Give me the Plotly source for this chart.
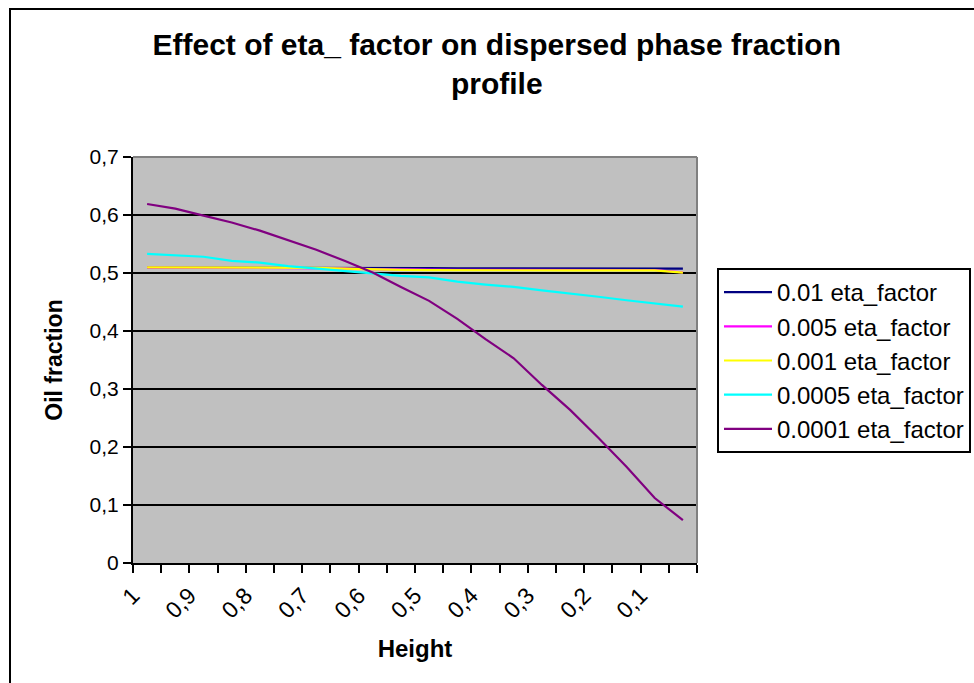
import plotly.graph_objects as go

# Height of each cell centre (20 cells between 1 and 0)
heights = [0.975, 0.925, 0.875, 0.825, 0.775, 0.725, 0.675, 0.625, 0.575, 0.525,
           0.475, 0.425, 0.375, 0.325, 0.275, 0.225, 0.175, 0.125, 0.075, 0.025]

# Oil fraction profiles for each eta_factor
oil_eta_0_01 = [0.5095, 0.5095, 0.5095, 0.5095, 0.5094, 0.5093, 0.5092, 0.5090, 0.5088, 0.5085,
                0.5083, 0.5081, 0.5079, 0.5078, 0.5077, 0.5077, 0.5076, 0.5076, 0.5076, 0.5075]
oil_eta_0_005 = [0.5093, 0.5093, 0.5093, 0.5093, 0.5093, 0.5092, 0.5090, 0.5080, 0.5068, 0.5060,
                 0.5056, 0.5054, 0.5053, 0.5053, 0.5053, 0.5053, 0.5053, 0.5053, 0.5052, 0.5010]
oil_eta_0_001 = [0.5098, 0.5098, 0.5098, 0.5098, 0.5098, 0.5096, 0.5090, 0.5075, 0.5062, 0.5055,
                 0.5050, 0.5047, 0.5046, 0.5046, 0.5046, 0.5046, 0.5046, 0.5046, 0.5045, 0.5005]
oil_eta_0_0005 = [0.533, 0.531, 0.528, 0.521, 0.518, 0.512, 0.508, 0.503, 0.4995, 0.495,
                  0.4925, 0.485, 0.480, 0.476, 0.470, 0.465, 0.459, 0.453, 0.448, 0.442]
oil_eta_0_0001 = [0.619, 0.611, 0.599, 0.587, 0.573, 0.557, 0.540, 0.521, 0.501, 0.476,
                  0.452, 0.421, 0.386, 0.353, 0.307, 0.264, 0.216, 0.166, 0.112, 0.074]

series_names = ["0.01 eta_factor", "0.005 eta_factor", "0.001 eta_factor",
                "0.0005 eta_factor", "0.0001 eta_factor"]
series_values = [oil_eta_0_01, oil_eta_0_005, oil_eta_0_001, oil_eta_0_0005, oil_eta_0_0001]
series_colors = ["#000080", "#FF00FF", "#FFFF00", "#00FFFF", "#800080"]

# Height axis: a tick at every cell boundary, a label on every second one
tick_positions = [1.0, 0.95, 0.9, 0.85, 0.8, 0.75, 0.7, 0.65, 0.6, 0.55, 0.5,
                  0.45, 0.4, 0.35, 0.3, 0.25, 0.2, 0.15, 0.1, 0.05, 0.0]
tick_labels = ["1", "", "0,9", "", "0,8", "", "0,7", "", "0,6", "", "0,5",
               "", "0,4", "", "0,3", "", "0,2", "", "0,1", "", ""]

FONT = "Arial, Liberation Sans, sans-serif"

fig = go.Figure()
for name, vals, col in zip(series_names, series_values, series_colors):
    fig.add_trace(go.Scatter(
        x=heights, y=vals, name=name, mode="lines",
        line=dict(color=col, width=2.2),
    ))

W, H = 974, 683
L, R, T, B = 133, 277, 157, 120
pw, ph = W - L - R, H - T - B


def px_to_paper_x(px):
    return (px - L) / pw


def px_to_paper_y(py):
    return (H - B - py) / ph


fig.update_layout(
    width=W, height=H,
    margin=dict(l=L, r=R, t=T, b=B, autoexpand=False),
    paper_bgcolor="white",
    plot_bgcolor="#C0C0C0",
    separators=", ",
    font=dict(family=FONT, color="black", size=20),
    title=dict(
        text="<b>Effect of eta_ factor on dispersed phase fraction<br>profile</b>",
        font=dict(family=FONT, size=30, color="black"),
        x=0.51, xanchor="center", xref="container",
        y=0.92, yanchor="top", yref="container",
    ),
    xaxis=dict(
        range=[1.0, 0.0], autorange=False,
        tickmode="array", tickvals=tick_positions, ticktext=tick_labels,
        tickangle=-45,
        ticks="outside", ticklen=8, tickwidth=2, tickcolor="black",
        showline=True, linecolor="black", linewidth=2,
        showgrid=False, zeroline=False,
        tickfont=dict(family=FONT, size=23, color="black"),
        title=dict(text="<b>Height</b>", font=dict(family=FONT, size=24, color="black"),
                   standoff=18),
    ),
    yaxis=dict(
        range=[0, 0.7], autorange=False, dtick=0.1, tick0=0,
        ticks="outside", ticklen=8, tickwidth=2, tickcolor="black",
        showline=True, linecolor="black", linewidth=2,
        showgrid=True, gridcolor="black", gridwidth=2,
        zeroline=False,
        tickfont=dict(family=FONT, size=21, color="black"),
        title=dict(text="<b>Oil fraction</b>", font=dict(family=FONT, size=23, color="black"),
                   standoff=21),
    ),
    legend=dict(
        x=px_to_paper_x(717), y=px_to_paper_y(268),
        xanchor="left", yanchor="top",
        bgcolor="white", bordercolor="black", borderwidth=2,
        font=dict(family=FONT, size=24, color="black"),
        itemwidth=48,
    ),
    showlegend=True,
)

# Plot area frame: grey top and right edges
fig.add_shape(type="line", xref="paper", yref="paper", x0=0, x1=1, y0=1, y1=1,
              line=dict(color="#808080", width=2), layer="above")
fig.add_shape(type="line", xref="paper", yref="paper", x0=1, x1=1, y0=0, y1=1,
              line=dict(color="#808080", width=2), layer="above")

# Chart area border
fig.add_shape(type="rect", xref="paper", yref="paper",
              x0=px_to_paper_x(10), x1=px_to_paper_x(990),
              y0=px_to_paper_y(700), y1=px_to_paper_y(9),
              line=dict(color="black", width=2), fillcolor="rgba(0,0,0,0)", layer="above")

fig.write_html("out.html")
